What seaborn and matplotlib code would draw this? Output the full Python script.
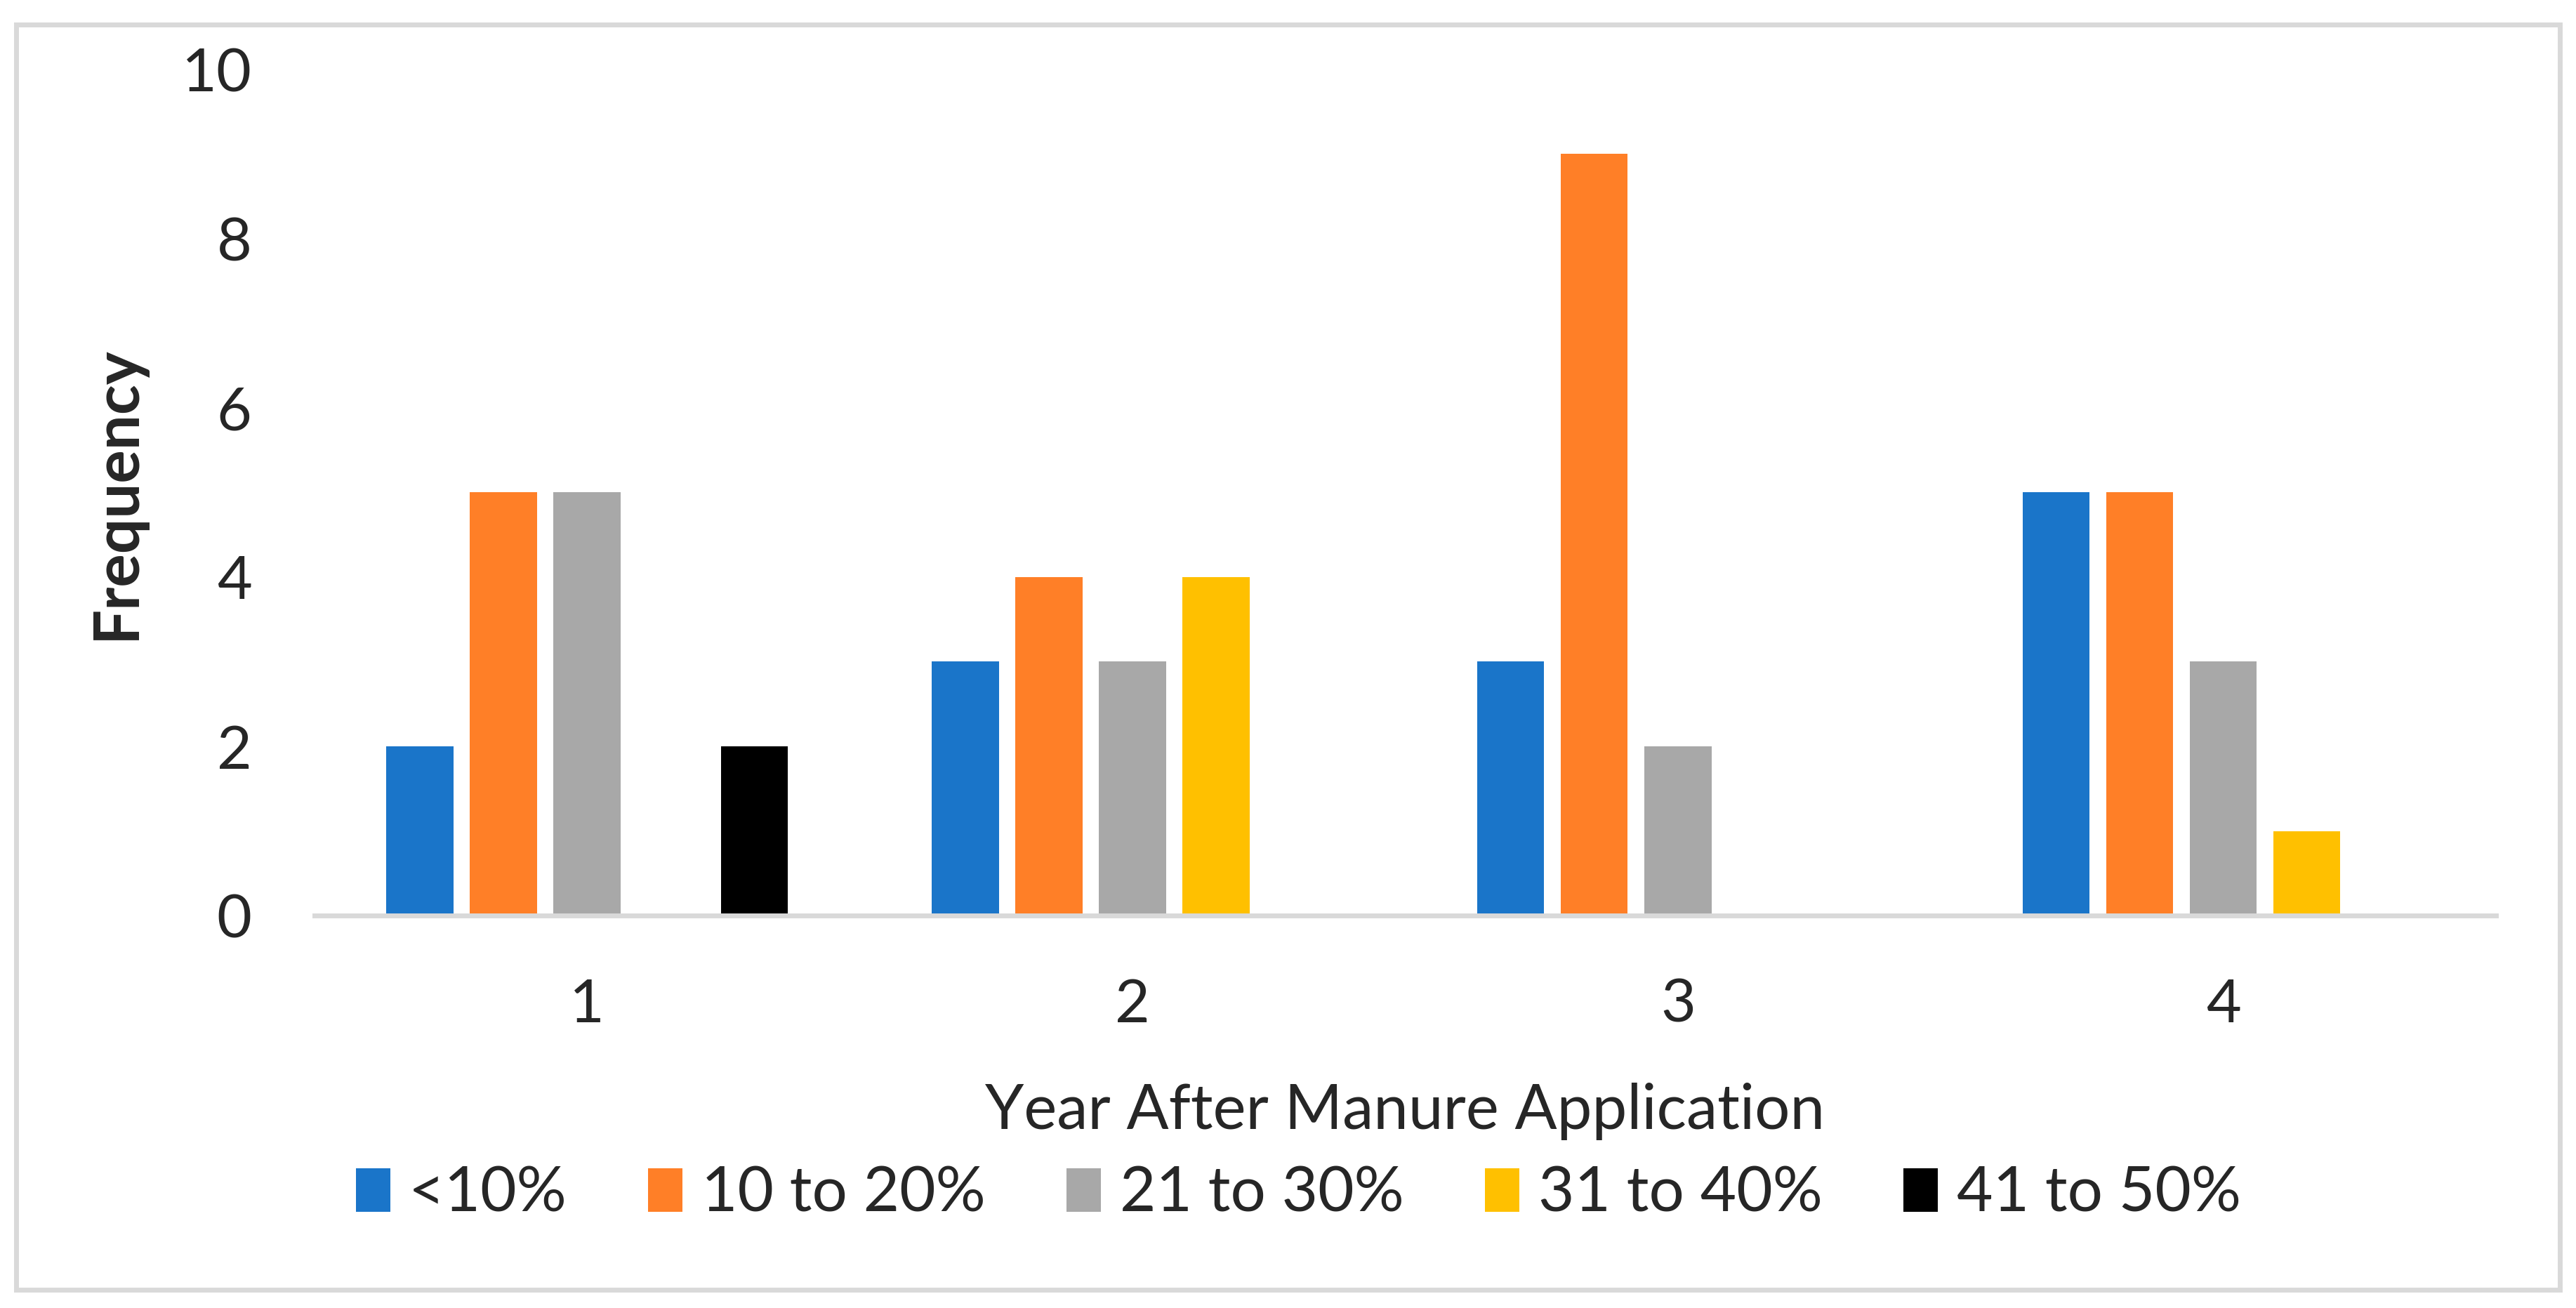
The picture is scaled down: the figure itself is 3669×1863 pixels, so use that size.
import pandas as pd
import matplotlib.pyplot as plt
import seaborn as sns
from matplotlib.patches import Rectangle

# values
years = ['1', '2', '3', '4']
ranges = ['<10%', '10 to 20%', '21 to 30%', '31 to 40%', '41 to 50%']
below_10 = [2, 3, 3, 5]
from_10_to_20 = [5, 4, 9, 5]
from_21_to_30 = [5, 3, 2, 3]
from_31_to_40 = [0, 4, 0, 1]
from_41_to_50 = [2, 0, 0, 0]
colors = ['#1A75C9', '#FF7F27', '#A8A8A8', '#FFC000', '#000000']

series = [below_10, from_10_to_20, from_21_to_30, from_31_to_40, from_41_to_50]
rows = []
for name, vals in zip(ranges, series):
    for yr, v in zip(years, vals):
        rows.append({'year': yr, 'range': name, 'count': v})
df = pd.DataFrame(rows)

sns.set_style('white')
plt.rcParams['font.family'] = ['Lato', 'DejaVu Sans']
FS = 64

fig, ax = plt.subplots(figsize=(36.69, 18.63), dpi=100)
fig.subplots_adjust(left=0.122, right=0.969, bottom=0.300, top=0.947)

sns.barplot(data=df, x='year', y='count', hue='range', order=years,
            hue_order=ranges, palette=colors, width=0.766, gap=0.2,
            linewidth=0, saturation=1, ax=ax, legend=True)

ax.set_ylim(0, 10)
ax.set_xlim(-0.5, 3.5)
ax.set_yticks([0, 2, 4, 6, 8, 10])
ax.tick_params(axis='both', length=0, labelsize=FS - 2, pad=64)

for s in ['top', 'right', 'left']:
    ax.spines[s].set_visible(False)
ax.spines['bottom'].set_color('#D9D9D9')
ax.spines['bottom'].set_linewidth(5)

ax.set_xlabel('Year After Manure Application', fontsize=FS)
ax.xaxis.set_label_coords(0.5, -0.231)
ax.xaxis.label.set_va('center')
ax.set_ylabel('Frequency', fontsize=FS, fontweight='bold')
ax.yaxis.set_label_coords(-0.0906, 0.5)
ax.yaxis.label.set_va('center')

handles, labels = ax.get_legend_handles_labels()
ax.get_legend().remove()
fig.legend(handles, labels, loc='center', bbox_to_anchor=(0.504, 0.087),
           ncol=5, frameon=False, fontsize=FS, handlelength=0.55,
           handleheight=0.7, handletextpad=0.3, columnspacing=1.3)

# light grey frame around the whole chart
fig.patches.append(Rectangle((0.0064, 0.014), 0.9872, 0.967,
                             transform=fig.transFigure, fill=False,
                             edgecolor='#D9D9D9', linewidth=5))

fig.savefig('out.png', dpi=100)
